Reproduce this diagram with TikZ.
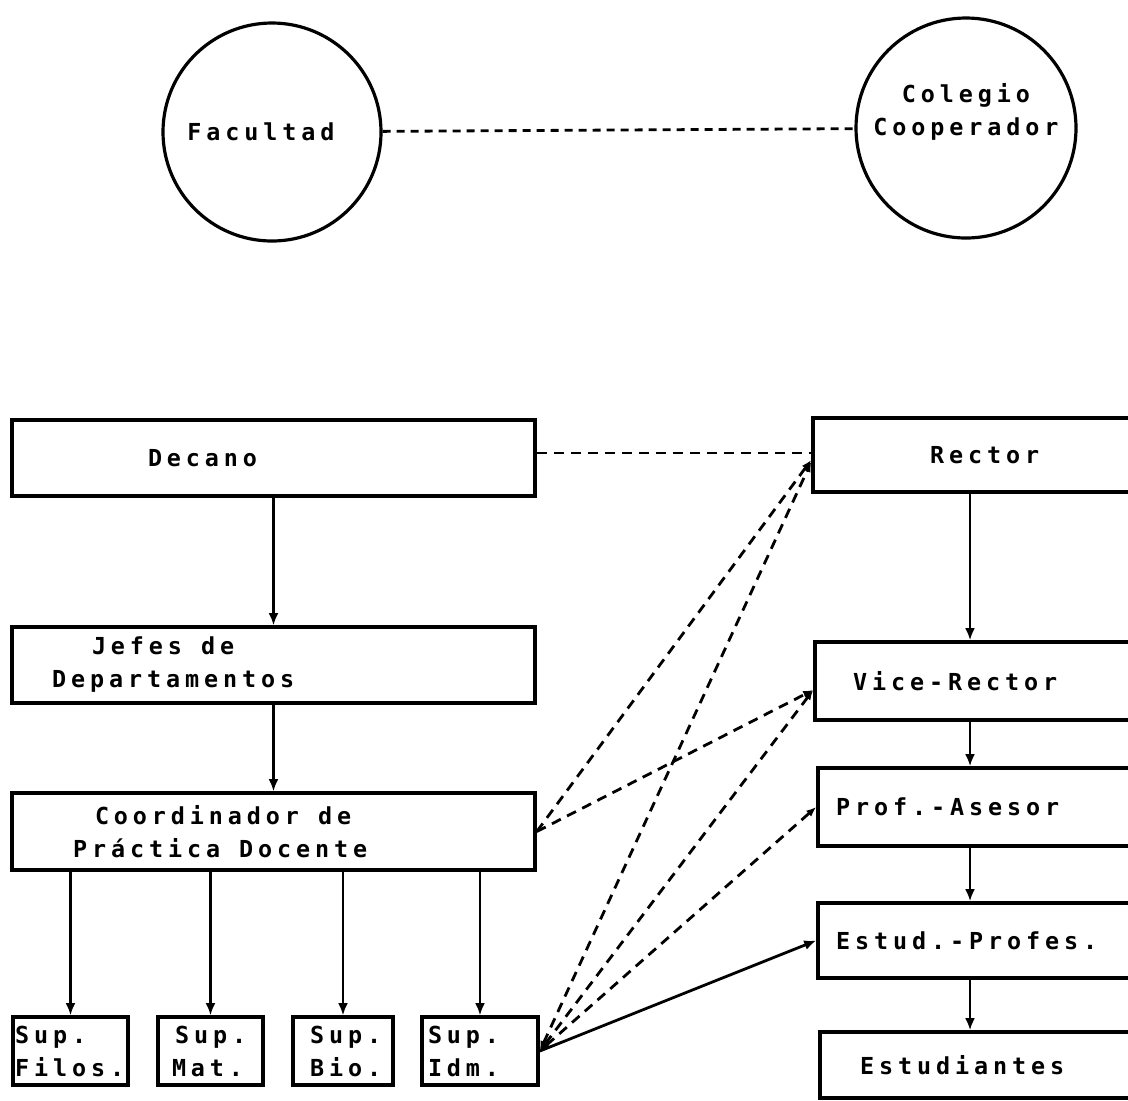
\documentclass[tikz,border=0pt]{standalone}
\usepackage{fontspec}
\setmonofont{DejaVu Sans Mono}[LetterSpace=21]
\usetikzlibrary{positioning,arrows.meta}
\newcommand{\esp}{\hspace*{9.5pt}}

\begin{document}
\begin{tikzpicture}[x=0.5pt,y=-0.5pt,
		font=\ttfamily\bfseries\fontsize{11.7}{16.5}\selectfont,
		box/.style={draw, rectangle, line width=1.8pt, inner xsep=0pt, inner ysep=0pt, text width=#1, align=left},
		orb/.style={draw, circle, line width=1.6pt, inner sep=0pt, minimum size=#1},
		down/.style={line width=1.4pt, -{Latex[length=6pt,width=5pt]}},
		link/.style={line width=1.4pt, dash pattern=on 5pt off 3.5pt},
		tip/.style={-{Latex[length=5pt,width=4pt]}},
		tips/.style={{Latex[length=5pt,width=4pt]}-{Latex[length=5pt,width=4pt]}}]
		\useasboundingbox (0,0) rectangle (1128,1100);
		% circulos
		\node[orb=109pt] (Facultad) at (272,132) {Facultad\hspace*{11pt}};
		\node[orb=110pt] (Colegio) at (966,128) {\raisebox{8pt}[\height][\depth]{\begin{tabular}{@{}c@{}}Colegio\\Cooperador\end{tabular}}};
		\draw[link, dash pattern=on 4pt off 3pt] (Facultad) -- (Colegio);
		% facultad
		\node[box=261.5pt, minimum height=38pt] (Decano) at (273.5,458) {\hspace*{68pt}Decano};
		\node[box=261.5pt, minimum height=38pt] (Jefes) at (273.5,665) {\hspace*{40pt}Jefes\esp de\\\hspace*{20pt}Departamentos};
		\node[box=261.5pt, minimum height=38.5pt] (Coord) at (273.5,831.5) {\hspace*{41.5pt}Coordinador\esp de\\\hspace*{30.5pt}Práctica\esp Docente};
		\node[box=57.5pt, minimum height=34pt] (Filos) at (70.5,1051) {\hspace*{1pt}Sup.\\\hspace*{1pt}Filos.};
		\node[box=52.5pt, minimum height=34pt] (Mat) at (210.5,1051) {\hspace*{8.5pt}Sup.\\\hspace*{7pt}Mat.};
		\node[box=50pt, minimum height=34pt] (Bio) at (343,1051) {\hspace*{8.5pt}Sup.\\\hspace*{8.5pt}Bio.};
		\node[box=58pt, minimum height=34pt] (Idm) at (480,1051) {\hspace*{3pt}Sup.\\\hspace*{3pt}Idm.};
		\draw[down] (Decano) -- (Jefes);
		\draw[down] (Jefes) -- (Coord);
		\foreach \s in {Filos,Mat,Bio,Idm}
			\draw[down] (Coord.south -| \s.north) -- (\s.north);
		% colegio
		\node[box=163.5pt, minimum height=37pt] (Rector) at (976.5,455) {\hspace*{58.5pt}Rector};
		\node[box=162.5pt, minimum height=39pt] (Vice) at (977.5,681) {\hspace*{19pt}Vice-Rector};
		\node[box=161pt, minimum height=39pt] (Asesor) at (979,807) {\hspace*{9pt}Prof.-Asesor};
		\node[box=161pt, minimum height=37.5pt] (Practicante) at (979,940.5) {\hspace*{9pt}Estud.-Profes.};
		\node[box=160pt, minimum height=33pt] (Estudiantes) at (980,1065) {\hspace*{20pt}Estudiantes};
		\coordinate (rx) at (970,0);
		\foreach \a/\b in {Rector/Vice,Vice/Asesor,Asesor/Practicante,Practicante/Estudiantes}
			\draw[down] (\a.south -| rx) -- (\b.north -| rx);
		% enlaces
		\draw[link] ([yshift=2.5pt]Decano.east) -- ([yshift=2.5pt]Decano.east -| Rector.west);
		\draw[link,tip] (Coord.east) -- ([yshift=-2.5pt]Rector.west);
		\draw[link,tip] (Coord.east) -- ([yshift=-4.5pt]Vice.west);
		\draw[link,tips] (Idm.east) -- ([yshift=-3.5pt]Rector.west);
		\draw[link,tips] (Idm.east) -- ([yshift=-4.5pt]Vice.west);
		\draw[link,tips] (Idm.east) -- (Asesor.west);
		\draw[down] (Idm.east) -- (Practicante.west);
	\end{tikzpicture}
\end{document}
